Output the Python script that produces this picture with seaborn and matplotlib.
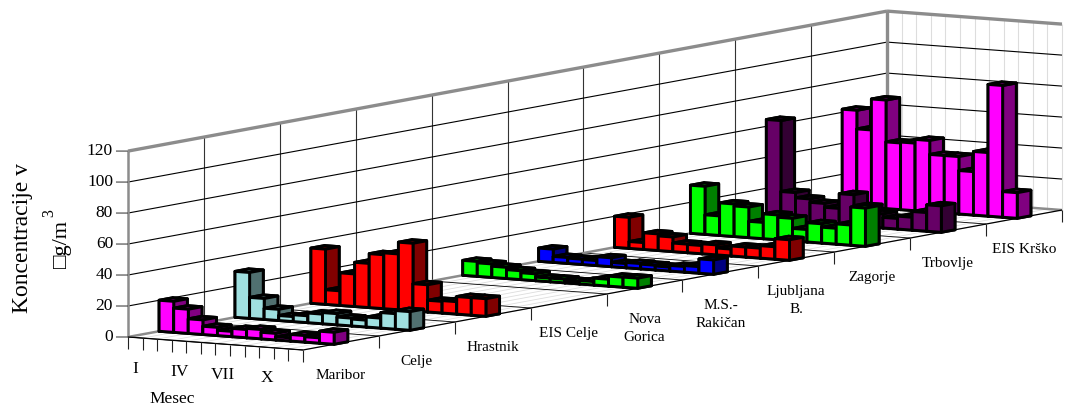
import numpy as np
import pandas as pd
import matplotlib
matplotlib.use("Agg")
import matplotlib.pyplot as plt
import seaborn as sns
from matplotlib.colors import to_rgb
from mpl_toolkits.mplot3d import proj3d

months = list(range(1, 13))
month_labels = {1: "I", 4: "IV", 7: "VII", 10: "X"}
sites = ["Maribor", "Celje", "Hrastnik", "EIS Celje", "Nova\nGorica", "M.S.-\nRakičan",
         "Ljubljana\nB.", "Zagorje", "Trbovlje", "EIS Krško"]
site_colors = ["#ff00ff", "#a0e0e0", "#ff0000", "#00ff00", "#00ff00", "#0000ff",
               "#ff0000", "#00ff00", "#660066", "#ff00ff"]

maribor = [20, 15.6, 9.4, 5.3, 3.4, 5.3, 6, 4.2, 2, 4.2, 3.4, 7.7]
celje = [29.6, 13.5, 7.2, 3.2, 4.4, 6.2, 7.2, 5, 4.4, 6.4, 10, 12]
hrastnik = [35.6, 9.4, 21, 28.5, 34.8, 36, 43.6, 17.5, 7.5, 8, 11.3, 11.3]
eis_celje = [np.nan] * 12
nova_gorica = [9.6, 8.7, 7.2, 5.7, 4.4, 2.3, 2.3, 1.5, 2.2, 4.4, 6.4, 6.5]
rakican = [8.5, 3.8, 3.4, 3.2, 5.7, 2.7, 3.4, 3, 2.5, 3.6, 4.2, 9.2]
ljubljana = [20, 4.4, 10.7, 9.4, 5.5, 5.3, 6.4, 4.4, 6.4, 6.4, 8, 13.2]
zagorje = [31, 12.6, 21, 19.7, 10.5, 16, 14.5, 8, 12.4, 10.2, 13, 24.6]
trbovlje = [64.4, 18.6, 15.2, 13, 10.5, 20, 13, 9, 6.8, 8.3, 12, 17]
krsko = [62, 50, 70, 43, 43.6, 46, 37, 37, 28, 41, 85, 16.5]

z_ticks = [0, 20, 40, 60, 80, 100, 120]

sns.set_theme(style="white", rc={"text.color": "black"})
plt.rcParams["font.family"] = ["Liberation Serif", "DejaVu Sans"]

table = pd.DataFrame(
    [maribor, celje, hrastnik, eis_celje, nova_gorica, rakican, ljubljana, zagorje, trbovlje, krsko],
    index=range(len(sites)), columns=months,
)
data = table.melt(ignore_index=False, var_name="month", value_name="conc").reset_index(names="site")
palette = sns.color_palette(site_colors)

W, H = 1065, 407
fig = plt.figure(figsize=(W / 100, H / 100), dpi=100)
ax = fig.add_subplot(projection="3d", computed_zorder=False, proj_type="ortho")
ax.view_init(elev=6.72, azim=-57.6)
ax.set_box_aspect((207, 1415, 187))
ax.set_axis_off()

nx, ny, top = 12, 10, 120
wall = "#8c8c8c"


def line(x, y, z, color="black", lw=0.8):
    ax.plot(x, y, z, color=color, lw=lw, zorder=1, solid_capstyle="butt")


# light grid on floor and end wall
for m in range(nx + 1):
    line([m, m], [0, ny], [0, 0], "#dddddd", 0.6)
    line([m, m], [ny, ny], [0, top], "#dddddd", 0.8)
for s in range(ny + 1):
    line([0, nx], [s, s], [0, 0], "black", 0.6)
    if s > 0:
        line([0, 0], [s, s], [0, top], "#333333", 0.8)
for z in z_ticks[1:-1]:
    line([0, 0], [0, ny], [z, z])
    line([0, nx], [ny, ny], [z, z])

# frame
line([0, 0], [0, ny], [top, top], wall, 2.4)
line([0, nx], [ny, ny], [top, top], wall, 2.4)
line([0, 0], [ny, ny], [0, top], wall, 2.4)
line([0, 0], [0, 0], [0, top], wall, 1.8)
line([0, 0], [0, ny], [0, 0], wall, 1.8)
line([0, nx], [ny, ny], [0, 0], wall, 1.8)
line([0, nx], [0, 0], [0, 0], "black", 0.9)
line([nx, nx], [0, ny], [0, 0], "black", 0.9)

# ticks
for m in range(nx + 1):
    line([m, m], [0, 0], [0, -7.5], "#222222", 0.8)
for s in range(1, ny + 1):
    line([nx, nx], [s, s], [0, -7.5], "#222222", 0.8)
for z in z_ticks:
    line([0, -0.59], [0, -0.045], [z, z], "#444444", 0.8)

# bars, painted from the far end to the near end
order = 10
for _, row in data.sort_values(["site", "month"], ascending=[False, True]).iterrows():
    if np.isnan(row.conc):
        continue
    base = to_rgb(palette[int(row.site)])
    dark = tuple(np.array(base) * 0.5)
    faces = [dark, dark, base, dark, dark, dark]
    bar = ax.bar3d(row.month - 1, row.site + 0.41, 0, 1, 0.18, row.conc, color=faces,
                   shade=False, edgecolor="black", linewidth=2.1)
    bar.set_zorder(order)
    order += 1

ax.set_xlim(0, nx, view_margin=0)
ax.set_ylim(0, ny, view_margin=0)
ax.set_zlim(0, top, view_margin=0)


def place(side, cx, cy):
    ax.set_position([(cx - side / 2) / W, (cy - side / 2) / H, side / W, side / H])


def to_px(x, y, z):
    px, py, _ = proj3d.proj_transform(x, y, z, ax.get_proj())
    return ax.transData.transform((px, py))


# size the square 3d panel so the box corners land where the original has them
side = 900.0
place(side, W / 2, H / 2)
fig.canvas.draw()
span = to_px(nx, ny, 0)[0] - to_px(0, 0, 0)[0]
side *= (1062 - 128) / span
place(side, W / 2, H / 2)
fig.canvas.draw()
corner = to_px(0, 0, 0)
place(side, W / 2 + 128 - corner[0], H / 2 + (H - 337) - corner[1])
fig.canvas.draw()


def label(x, y, z, text, **kw):
    px, py = to_px(x, y, z)
    fig.text(px / W, py / H, text, **kw)


for z in z_ticks:
    label(-0.73, -0.057, z, str(z), ha="right", va="center", fontsize=12.5)
for m, text in month_labels.items():
    label(m - 0.5, 0, -20, text, ha="center", va="center", fontsize=12.5)
label(3.05, 0, -38, "Mesec", ha="center", va="center", fontsize=12.5)
for s, text in enumerate(sites):
    label(nx, s + 0.5, -17, text, ha="center", va="top", fontsize=11, linespacing=1.5)

fig.text(23 / W, 1 - 238 / H, "Koncentracije v", rotation=90, ha="center", va="center", fontsize=17)
fig.text(62 / W, 1 - 244 / H, "□g/m", rotation=90, ha="center", va="center", fontsize=16)
fig.text(49 / W, 1 - 213 / H, "3", rotation=90, ha="center", va="center", fontsize=11.5)

fig.savefig("out.png", dpi=100)
plt.close(fig)
